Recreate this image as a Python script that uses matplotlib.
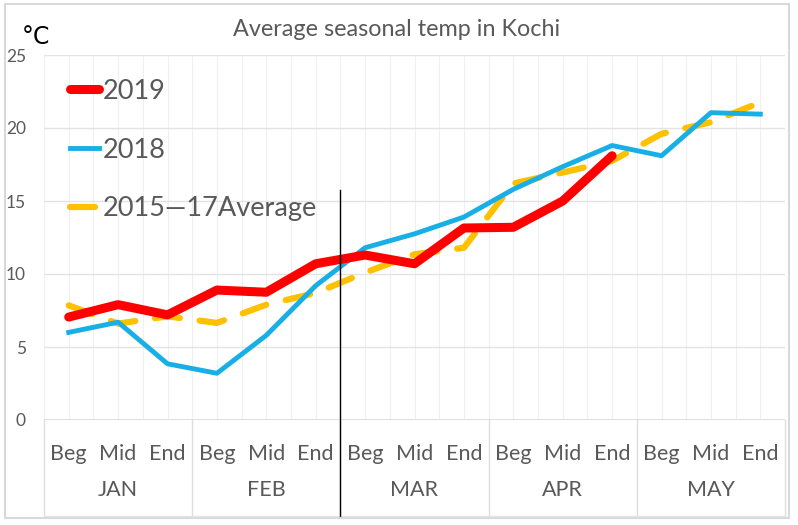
import matplotlib.pyplot as plt
from matplotlib.patches import Rectangle
import matplotlib.transforms as mtransforms
import numpy as np

plt.rcParams['font.family'] = ['Lato', 'DejaVu Sans']

months = ['JAN', 'FEB', 'MAR', 'APR', 'MAY']
parts = ['Beg', 'Mid', 'End']

t2019 = [7.05, 7.9, 7.2, 8.9, 8.75, 10.7, 11.3, 10.7, 13.15, 13.2, 15.0, 18.1]
t2018 = [6.0, 6.7, 3.85, 3.2, 5.8, 9.2, 11.8, 12.75, 13.9, 15.8, 17.35, 18.8,
         18.1, 21.05, 20.95]
tavg = [7.85, 6.6, 7.1, 6.65, 7.9, 8.7, 10.1, 11.35, 11.8, 16.2, 16.95, 17.75,
        19.6, 20.4, 21.75]

text_col = '#595959'

fig = plt.figure(figsize=(7.98, 5.25), dpi=100)
ax = fig.add_axes([44/798, 1 - 420/525, 741/798, 365/525])

x = np.arange(len(tavg))

# grid
for g in np.arange(-0.5, 14.6, 0.5):
    ax.axvline(g, color='#f0f0f0', lw=0.8, zorder=0)
for g in [5, 10, 15, 20, 25]:
    ax.axhline(g, color='#e3e3e3', lw=1, zorder=0)
ax.axhline(0, color='#d9d9d9', lw=1.2, zorder=0)

ax.plot(x, tavg, color='#ffc000', lw=4.5, ls=(0, (4, 3.2)),
        dash_capstyle='round', label='2015\u201417Average', zorder=2)
ax.plot(x, t2018, color='#18aee6', lw=3.5, label='2018', zorder=3)
ax.plot(x[:len(t2019)], t2019, color='#ff0000', lw=6.5, solid_capstyle='round',
        label='2019', zorder=4)

ax.set_xlim(-0.5, 14.5)
ax.set_ylim(0, 25)
ax.set_yticks([0, 5, 10, 15, 20, 25])
ax.set_xticks([])
ax.tick_params(axis='y', length=0, pad=13, labelsize=12.5, labelcolor=text_col)
for s in ax.spines.values():
    s.set_visible(False)

# category axis labels
trans = mtransforms.blended_transform_factory(ax.transData, ax.transAxes)
for i in x:
    ax.text(i, -0.092, parts[i % 3], transform=trans, ha='center', va='center',
            fontsize=15.5, color=text_col)
for j, m in enumerate(months):
    ax.text(3 * j + 1, -0.192, m, transform=trans, ha='center', va='center',
            fontsize=15.5, color=text_col)
for b in np.arange(-0.5, 14.6, 3):
    ax.plot([b, b], [0, -0.263], transform=trans, color='#dedede', lw=1,
            clip_on=False)
ax.plot([-0.5, 14.5], [-0.263, -0.263], transform=trans, color='#e6e6e6',
        lw=1, clip_on=False)

# marker line between FEB and MAR
ax.plot([5.5, 5.5], [15.75 / 25, -0.263], transform=trans, color='black',
        lw=1, clip_on=False, zorder=5)

handles, labels = ax.get_legend_handles_labels()
leg = ax.legend(handles[::-1], labels[::-1], loc='upper left',
                bbox_to_anchor=(0.035, 0.935), frameon=False, fontsize=19.5,
                borderaxespad=0, borderpad=0,
                handlelength=1.08, handletextpad=0.12, labelspacing=1.25)
for t in leg.get_texts():
    t.set_color(text_col)

fig.text(0.497, 1 - 30/525, 'Average seasonal temp in Kochi', ha='center',
         va='center', fontsize=16.8, color=text_col)
fig.text(22/798, 1 - 37/525, '\u00b0C', ha='left', va='center', fontsize=17,
         color='black', family=['DejaVu Sans'])

fig.patches.append(Rectangle((5/798, 1 - 518/525), 784/798, 514/525,
                             transform=fig.transFigure, fill=False,
                             edgecolor='#d9d9d9', lw=1.5))

fig.savefig('out.png', dpi=100)
